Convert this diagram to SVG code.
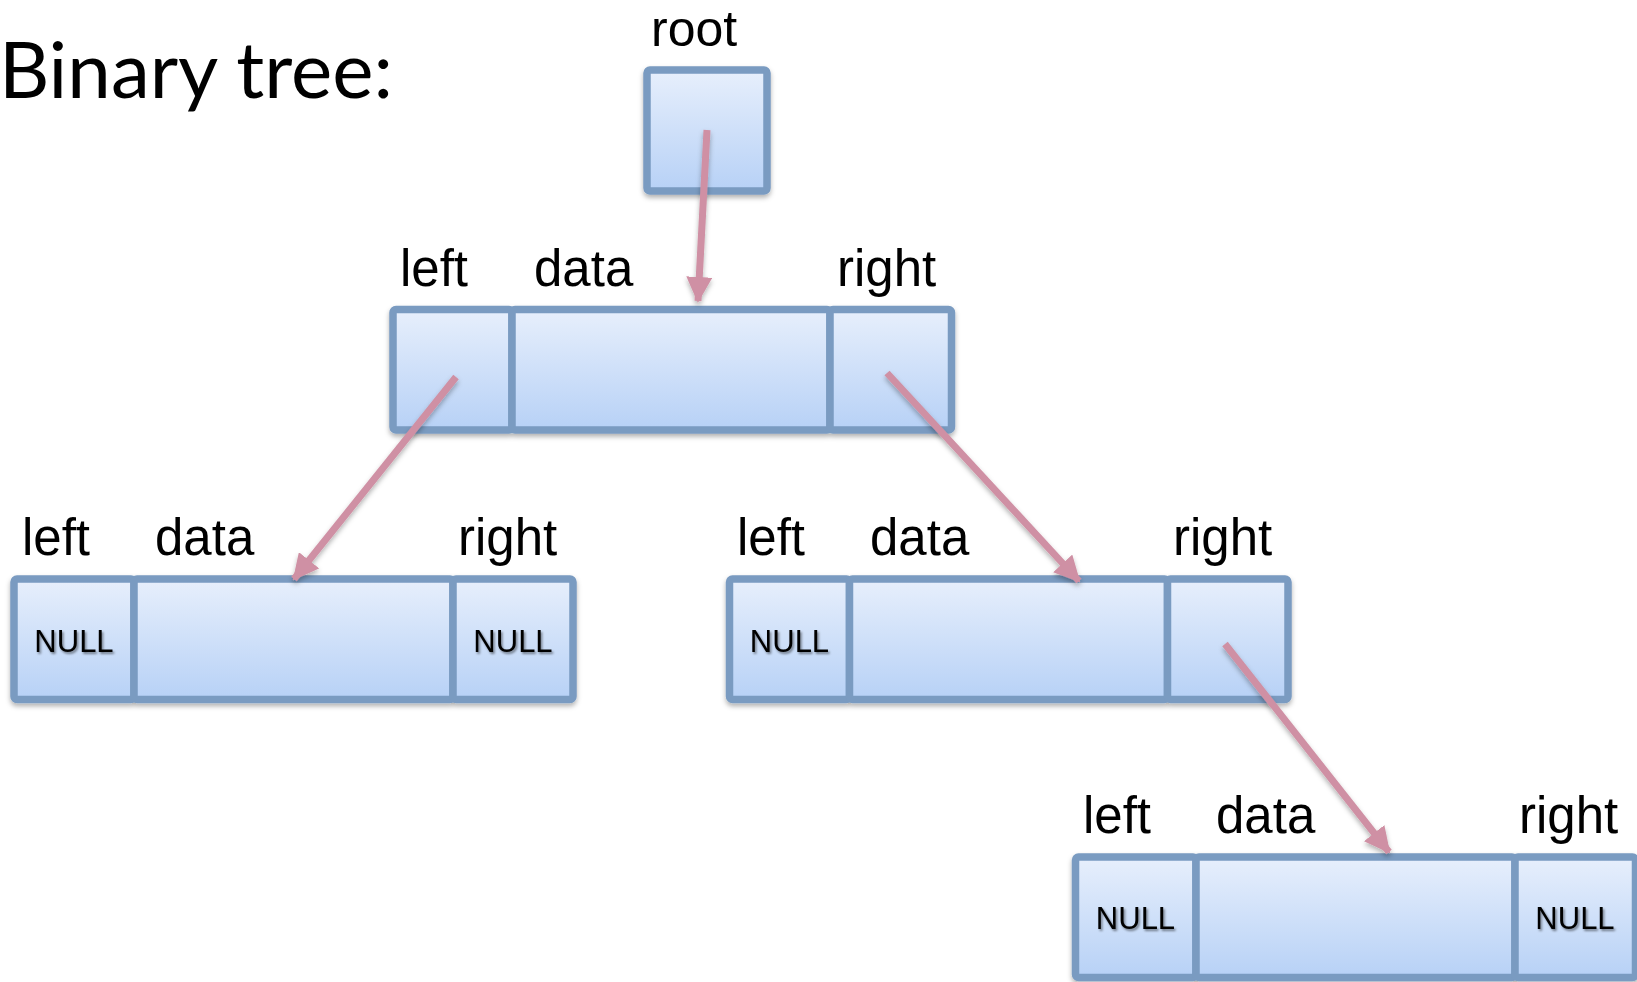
<svg xmlns="http://www.w3.org/2000/svg" width="1637" height="982" viewBox="0 0 1637 982">
  <defs>
    <linearGradient id="cellFill" x1="0" y1="0" x2="0" y2="1">
      <stop offset="0" stop-color="#e7effc"/>
      <stop offset="1" stop-color="#b7d1f6"/>
    </linearGradient>
    <filter id="boxShadow" x="-10%" y="-10%" width="120%" height="130%">
      <feDropShadow dx="0" dy="3" stdDeviation="2.5" flood-color="#000" flood-opacity="0.3"/>
    </filter>
    <filter id="textShadow" x="-10%" y="-20%" width="130%" height="150%">
      <feDropShadow dx="1.5" dy="2" stdDeviation="1" flood-color="#000" flood-opacity="0.45"/>
    </filter>
    <marker id="arrowHead" markerUnits="userSpaceOnUse" markerWidth="26" markerHeight="26" viewBox="0 0 26 26" refX="24" refY="13" orient="auto">
      <path d="M0,0 L26,13 L0,26 Z" fill="#cf90a4"/>
    </marker>
  </defs>
  <style>
    .cell { fill: url(#cellFill); stroke: #7a9bc1; stroke-width: 7.5; }
    .lbl { font-family: "Liberation Sans", Arial, sans-serif; font-size: 51px; fill: #000; }
    .null { font-family: "Liberation Sans", Arial, sans-serif; font-size: 31px; fill: #000; text-anchor: middle; }
    .title { font-family: Lato, "Open Sans", sans-serif; font-size: 77px; fill: #000; }
    .conn { stroke: #cf90a4; stroke-width: 7; fill: none; marker-end: url(#arrowHead); }
  </style>

  <text class="title" x="-1" y="98" textLength="394" lengthAdjust="spacingAndGlyphs">Binary tree:</text>

  <g id="root">
    <text class="lbl" x="651" y="46" style="font-size:50px">root</text>
    <rect class="cell" x="647" y="70" width="120" height="121" rx="3" filter="url(#boxShadow)"/>
  </g>

  <g id="node-top">
    <text class="lbl" x="400" y="286">left</text>
    <text class="lbl" x="534" y="286">data</text>
    <text class="lbl" x="837" y="286">right</text>
    <g filter="url(#boxShadow)">
      <rect class="cell" x="393" y="309.5" width="119" height="120.5" rx="3"/>
      <rect class="cell" x="512" y="309.5" width="318" height="120.5" rx="3"/>
      <rect class="cell" x="830" y="309.5" width="121.5" height="120.5" rx="3"/>
    </g>
  </g>

  <g id="node-left">
    <text class="lbl" x="22" y="555">left</text>
    <text class="lbl" x="155" y="555">data</text>
    <text class="lbl" x="458" y="555">right</text>
    <g filter="url(#boxShadow)">
      <rect class="cell" x="14" y="579" width="120" height="120.5" rx="3"/>
      <rect class="cell" x="134" y="579" width="319" height="120.5" rx="3"/>
      <rect class="cell" x="453" y="579" width="120" height="120.5" rx="3"/>
    </g>
    <text class="null" x="74" y="652" filter="url(#textShadow)">NULL</text>
    <text class="null" x="513" y="652" filter="url(#textShadow)">NULL</text>
  </g>

  <g id="node-right">
    <text class="lbl" x="737" y="555">left</text>
    <text class="lbl" x="870" y="555">data</text>
    <text class="lbl" x="1173" y="555">right</text>
    <g filter="url(#boxShadow)">
      <rect class="cell" x="729.5" y="579" width="120" height="120.5" rx="3"/>
      <rect class="cell" x="849.5" y="579" width="318" height="120.5" rx="3"/>
      <rect class="cell" x="1167.5" y="579" width="120.5" height="120.5" rx="3"/>
    </g>
    <text class="null" x="789.5" y="652" filter="url(#textShadow)">NULL</text>
  </g>

  <g id="node-bottom">
    <text class="lbl" x="1083" y="833">left</text>
    <text class="lbl" x="1216" y="833">data</text>
    <text class="lbl" x="1519" y="833">right</text>
    <g filter="url(#boxShadow)">
      <rect class="cell" x="1075.5" y="857" width="120.5" height="120.5" rx="3"/>
      <rect class="cell" x="1196" y="857" width="319" height="120.5" rx="3"/>
      <rect class="cell" x="1515" y="857" width="120.5" height="120.5" rx="3"/>
    </g>
    <text class="null" x="1135.5" y="929" filter="url(#textShadow)">NULL</text>
    <text class="null" x="1575" y="929" filter="url(#textShadow)">NULL</text>
  </g>

  <g id="connectors" filter="url(#boxShadow)">
    <line class="conn" x1="707" y1="130" x2="698" y2="301"/>
    <line class="conn" x1="456" y1="377" x2="294" y2="579"/>
    <line class="conn" x1="887" y1="373" x2="1079" y2="581"/>
    <line class="conn" x1="1225" y1="644" x2="1389" y2="852"/>
  </g>
</svg>
